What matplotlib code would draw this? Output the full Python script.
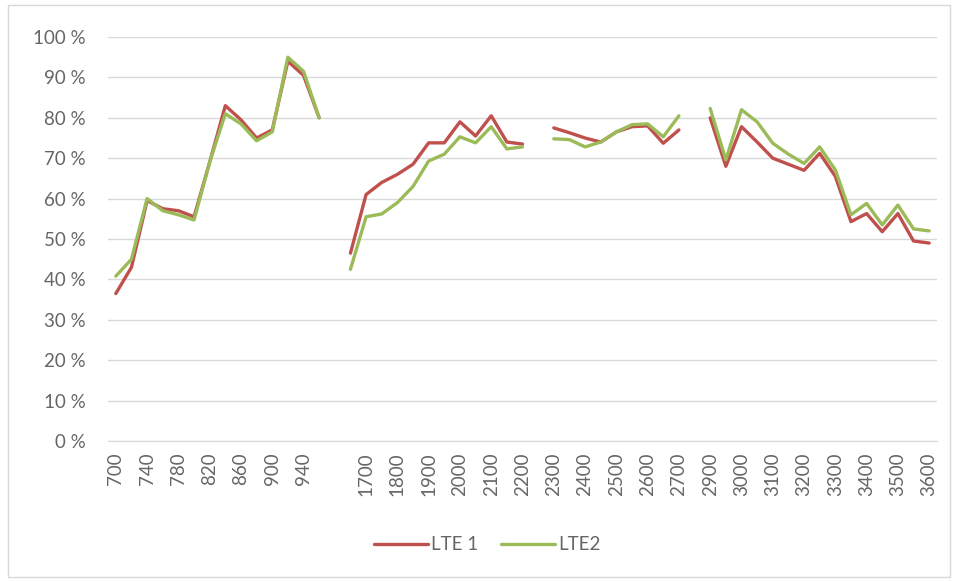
import matplotlib
matplotlib.use("Agg")
import matplotlib.pyplot as plt
from matplotlib.patches import Rectangle
from matplotlib.ticker import FuncFormatter
import numpy as np

plt.rcParams['font.family'] = ['Lato', 'DejaVu Sans']

# category axis (empty strings are the gaps between bands)
categories = ['700', '720', '740', '760', '780', '800', '820', '840', '860', '880',
              '900', '920', '940', '960', '',
              '1650', '1700', '1750', '1800', '1850', '1900', '1950', '2000', '2050',
              '2100', '2150', '2200', '',
              '2300', '2350', '2400', '2450', '2500', '2550', '2600', '2650', '2700', '',
              '2900', '2950', '3000', '3050', '3100', '3150', '3200', '3250', '3300',
              '3350', '3400', '3450', '3500', '3550', '3600']

# values in percent, None = no data
lte1 = [36.5, 43, 59.5, 57.5, 57, 55.5, 69, 83, 79.5, 75, 77, 94, 90.5, 80, None,
        46.5, 61, 64, 66, 68.5, 73.8, 73.8, 79, 75.5, 80.5, 74, 73.5, None,
        77.5, 76.3, 75, 74, 76.5, 77.8, 78, 73.7, 77, None,
        80, 68, 77.8, 74, 70, 68.5, 67, 71.2, 65.5, 54.3, 56.3, 51.8, 56.3, 49.5, 49]
lte2 = [40.8, 45, 60, 57, 56, 54.7, 69, 81, 78.5, 74.3, 76.5, 95, 91.5, 80, None,
        42.5, 55.5, 56.2, 59, 63, 69.3, 71, 75.3, 73.8, 77.8, 72.3, 72.8, None,
        74.8, 74.6, 72.8, 74, 76.5, 78.3, 78.5, 75.3, 80.5, None,
        82.3, 69.6, 82, 79, 73.7, 71, 68.7, 72.8, 67.1, 56, 58.8, 53.5, 58.4, 52.5, 52]

series_names = ['LTE 1', 'LTE2']
series_colors = ['#C0504D', '#9BBB59']

fig = plt.figure(figsize=(9.58, 5.82), dpi=100)
ax = fig.add_axes([108 / 958, 1 - 441 / 582, (937 - 108) / 958, (441 - 37) / 582])

x = np.arange(len(categories))
for vals, name, col in zip([lte1, lte2], series_names, series_colors):
    y = np.array([np.nan if v is None else v / 100 for v in vals], dtype=float)
    ax.plot(x, y, color=col, lw=2.4, label=name, solid_joinstyle='round',
            solid_capstyle='round')

ax.set_xlim(-0.5, len(categories) - 0.5)
ax.set_ylim(0, 1)
ax.set_yticks(np.arange(0, 1.01, 0.1))
ax.yaxis.set_major_formatter(FuncFormatter(lambda v, p: f'{v * 100:.0f} %'))
ax.set_xticks(x[::2])
ax.set_xticklabels(categories[::2], rotation=90)

ax.grid(axis='y', color='#d9d9d9', lw=1)
ax.set_axisbelow(True)
for s in ['top', 'right', 'left']:
    ax.spines[s].set_visible(False)
ax.spines['bottom'].set_color('#d9d9d9')
ax.tick_params(axis='both', length=0, colors='#666666', labelsize=13.5)
ax.tick_params(axis='y', pad=16)
ax.tick_params(axis='x', pad=8)

fig.legend(loc='center', bbox_to_anchor=(487 / 958, 1 - 545 / 582), ncol=2, frameon=False,
           fontsize=13.5, labelcolor='#666666', handlelength=2.9, columnspacing=1.2,
           handletextpad=0.15)

fig.patches.append(Rectangle((8 / 958, 5 / 582), 942 / 958, 572 / 582,
                             transform=fig.transFigure, fill=False,
                             edgecolor='#d9d9d9', lw=1))

plt.savefig('out.png', dpi=100, facecolor='white')
plt.close()
